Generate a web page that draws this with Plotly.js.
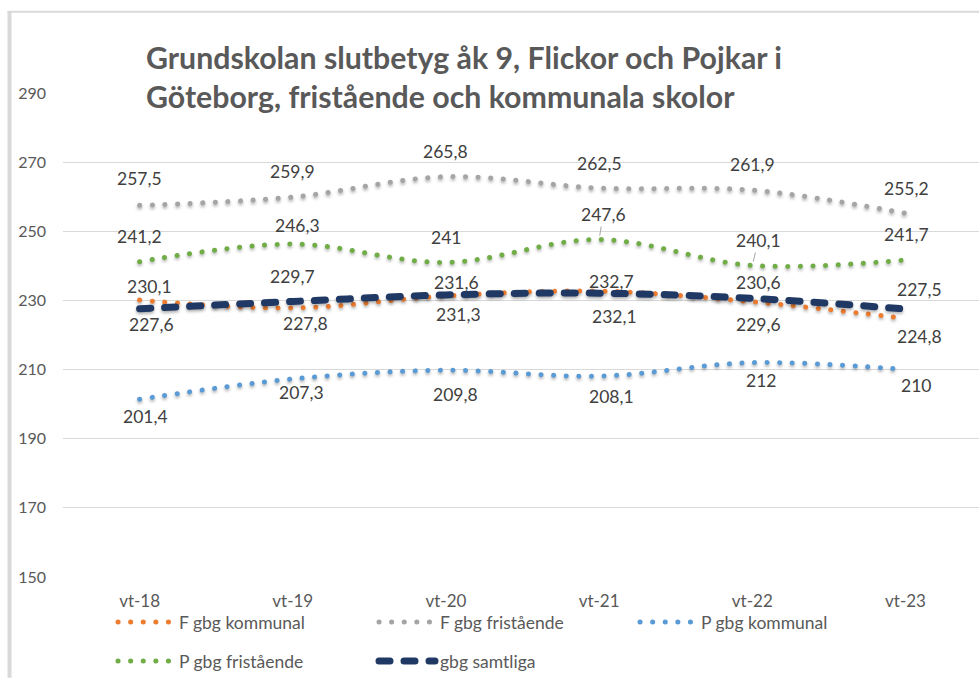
<!DOCTYPE html>
<html>
<head>
<meta charset="utf-8">
<script src="https://cdn.plot.ly/plotly-3.0.1.min.js"></script>
<style>
  html, body { margin: 0; padding: 0; background: #fff; }
  #chart { width: 979px; height: 679px; }
  path.js-line { stroke-linecap: round; }
  .scatterlayer .js-line { filter: drop-shadow(0px 2px 1.5px rgba(0,0,0,0.3)); }
</style>
</head>
<body>
<div id="chart"></div>
<script>
// ---- data ----
const categories = ['vt-18', 'vt-19', 'vt-20', 'vt-21', 'vt-22', 'vt-23'];
const fKommunal   = [230.1, 227.8, 231.3, 232.7, 229.6, 224.8];
const fFristaende = [257.5, 259.9, 265.8, 262.5, 261.9, 255.2];
const pKommunal   = [201.4, 207.3, 209.8, 208.1, 212, 210];
const pFristaende = [241.2, 246.3, 241, 247.6, 240.1, 241.7];
const samtliga    = [227.6, 229.7, 231.6, 232.1, 230.6, 227.5];
const seriesNames = ['F gbg kommunal', 'F gbg fristående', 'P gbg kommunal', 'P gbg fristående', 'gbg samtliga'];
const yTicks = [150, 170, 190, 210, 230, 250, 270, 290];

// ---- label placement (pixel offsets: dx right, dy down) ----
const offF_K = [[10,-14],[13,15],[13,19],[12,-10],[6,23],[14,18]];
const offF_F = [[0,-27],[0,-26],[0,-25],[0,-25],[0,-26],[1,-25]];
const offP_K = [[6,17],[9,14],[10,24],[12,20],[9,18],[11,16]];
const offP_F = [[0,-25],[5,-19],[0,-25],[4,-25],[6,-25],[1,-25]];
const offS   = [[12,16],[0,-25],[11,-12],[15,23],[6,-16],[14,-20]];
const leaderP_F = [false,false,false,true,true,false];

const colors = ['#ED7D31', '#A5A5A5', '#5B9BD5', '#70AD47', '#203864'];
const dotDash = '0.1px,12.5px';
const FONT = 'Lato, Carlito, Calibri, sans-serif';

function trace(vals, i, legend) {
  return {
    x: categories, y: vals, name: seriesNames[i], type: 'scatter', mode: 'lines',
    line: { color: colors[i], width: i === 4 ? 7 : 5, shape: 'spline', smoothing: 1,
            dash: i === 4 ? '11px,14px' : dotDash },
    legend: legend, hoverinfo: 'skip'
  };
}
const data = [
  trace(fKommunal, 0, 'legend'),
  trace(fFristaende, 1, 'legend'),
  trace(pKommunal, 2, 'legend'),
  trace(pFristaende, 3, 'legend2'),
  trace(samtliga, 4, 'legend2')
];

function fmt(v) { return String(v).replace('.', ','); }
const annotations = [];
const seriesForLabels = [
  [fKommunal, offF_K, null], [fFristaende, offF_F, null], [pKommunal, offP_K, null],
  [pFristaende, offP_F, leaderP_F], [samtliga, offS, null]
];
seriesForLabels.forEach(([vals, offs, leaders]) => {
  vals.forEach((v, j) => {
    const lead = leaders && leaders[j];
    const a = {
      x: categories[j], y: v, xref: 'x', yref: 'y', text: fmt(v),
      font: { family: FONT, size: 17.5, color: '#404040' }
    };
    if (lead) {
      Object.assign(a, { showarrow: true, arrowhead: 0, arrowwidth: 1, arrowcolor: '#a6a6a6',
        ax: offs[j][0], ay: offs[j][1], standoff: 4 });
    } else {
      Object.assign(a, { showarrow: false, xshift: offs[j][0], yshift: -offs[j][1] });
    }
    annotations.push(a);
  });
});

const L = 63, T = 93, B = 101, W = 979, H = 679;
const plotW = W - L, plotH = H - T - B;
const px = (x) => (x - L) / plotW;
const py = (y) => (H - B - y) / plotH;

const legendCommon = {
  orientation: 'h', xanchor: 'left', yanchor: 'middle',
  entrywidth: 190, entrywidthmode: 'pixels', itemwidth: 56,
  font: { family: FONT, size: 17.5, color: '#595959' }, bgcolor: 'rgba(0,0,0,0)'
};

const layout = {
  width: W, height: H,
  margin: { l: L, r: 0, t: T, b: B },
  paper_bgcolor: '#ffffff', plot_bgcolor: '#ffffff',
  separators: ', ',
  font: { family: FONT, color: '#595959' },
  title: {
    text: 'Grundskolan slutbetyg åk 9, Flickor och Pojkar i<br>Göteborg, fristående och kommunala skolor',
    font: { family: FONT, size: 30.3, color: '#595959', weight: 'bold' },
    x: 146 / W, xanchor: 'left', xref: 'container',
    y: 1 - 69 / H, yanchor: 'middle', yref: 'container'
  },
  xaxis: {
    type: 'category', range: [-0.5, 5.48], showgrid: false, zeroline: false, showline: false,
    ticks: '', tickfont: { family: FONT, size: 17, color: '#595959' }, ticklabelstandoff: 12,
    fixedrange: true
  },
  yaxis: {
    range: [150, 290], tickvals: yTicks, showgrid: true, gridcolor: '#d9d9d9', gridwidth: 1,
    zeroline: false, showline: false, ticks: '',
    tickfont: { family: FONT, size: 16, color: '#595959' }, ticklabelstandoff: 16,
    fixedrange: true
  },
  showlegend: true,
  legend: Object.assign({ x: px(113), y: py(622) }, legendCommon),
  legend2: Object.assign({ x: px(113), y: py(662) }, legendCommon),
  annotations: annotations,
  shapes: [
    { type: 'line', xref: 'paper', yref: 'paper', x0: px(9.5), x1: px(9.5), y0: py(11), y1: py(679),
      line: { color: '#d9d9d9', width: 4 }, layer: 'below' },
    { type: 'line', xref: 'paper', yref: 'paper', x0: px(7.5), x1: px(979), y0: py(11.5), y1: py(11.5),
      line: { color: '#d9d9d9', width: 2 }, layer: 'below' }
  ]
};

Plotly.newPlot('chart', data, layout, { displayModeBar: false, staticPlot: true });
</script>
</body>
</html>
